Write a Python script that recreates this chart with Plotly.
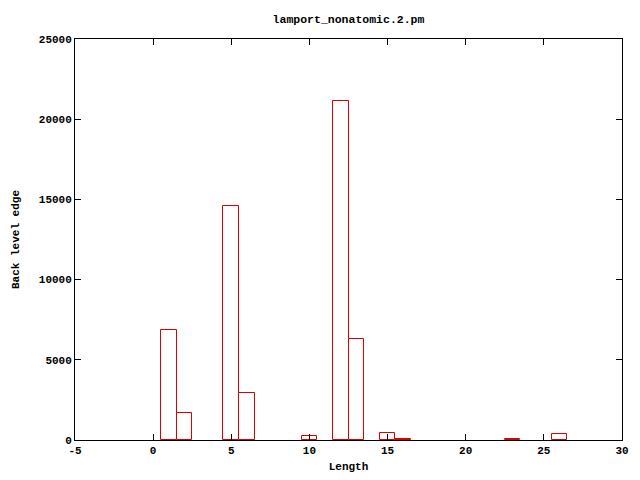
import plotly.graph_objects as go

lengths = [1, 2, 5, 6, 10, 12, 13, 15, 16, 23, 26]
counts = [6830, 1660, 14570, 2925, 250, 21130, 6290, 436, 60, 60, 375]
x_ticks = [-5, 0, 5, 10, 15, 20, 25, 30]
y_ticks = [0, 5000, 10000, 15000, 20000, 25000]

FONT = "Liberation Mono"
RED = "#dd0000"

# page body has an 8px default margin; size the figure to compensate
W, H = 632, 472

fig = go.Figure()
fig.add_trace(go.Bar(
    x=lengths, y=counts, width=1,
    marker=dict(color="white", line=dict(color=RED, width=1)),
))

fig.update_layout(
    width=W, height=H,
    margin=dict(l=67, r=18, t=31, b=40, autoexpand=False),
    plot_bgcolor="white", paper_bgcolor="white",
    showlegend=False,
    bargap=0,
    title=dict(text="<b>lamport_nonatomic.2.pm</b>", x=0.5, xref="paper", xanchor="center",
               y=1 - 11 / H, yanchor="middle",
               font=dict(family=FONT, size=11.5, color="black")),
    font=dict(family=FONT, size=11, color="black"),
)

fig.update_xaxes(
    range=[-5, 30], tickvals=x_ticks,
    ticktext=[f"<b>{v}</b>" for v in x_ticks],
    ticks="inside", ticklen=6, tickcolor="black",
    showline=True, linecolor="black", linewidth=1, mirror="allticks",
    showgrid=False, zeroline=False, automargin=False,
    title=dict(text="<b>Length</b>", standoff=6, font=dict(family=FONT, size=11)),
)
fig.update_yaxes(
    range=[0, 25000], tickvals=y_ticks,
    ticktext=[f"<b>{v}</b>" for v in y_ticks],
    ticks="inside", ticklen=6, tickcolor="black",
    showline=True, linecolor="black", linewidth=1, mirror="allticks",
    showgrid=False, zeroline=False, automargin=False,
    title=dict(text="<b>Back level edge</b>", standoff=16, font=dict(family=FONT, size=11)),
)

fig.write_html("out.html")
